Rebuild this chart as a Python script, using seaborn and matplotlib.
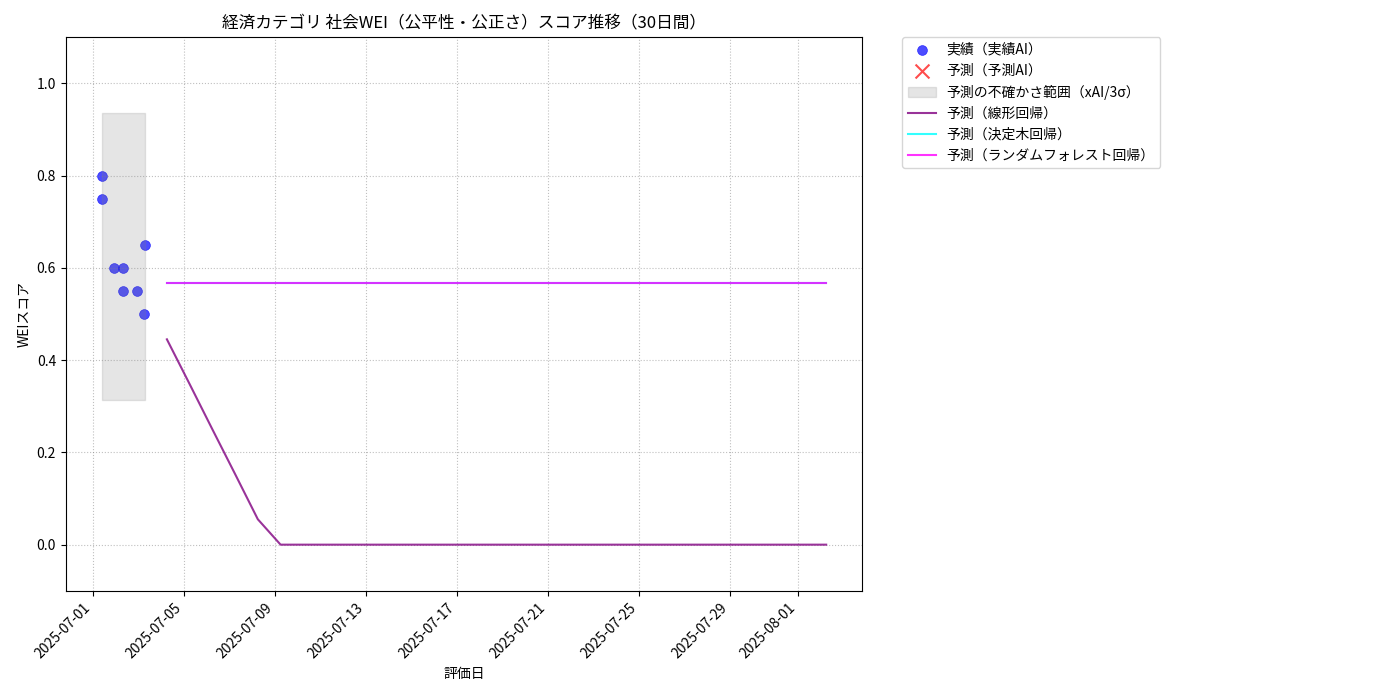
import matplotlib
matplotlib.use("Agg")
import matplotlib.pyplot as plt
import seaborn as sns
import pandas as pd

plt.rcParams['font.family'] = ['Noto Sans CJK JP', 'DejaVu Sans']

# 実績データ
actual_dates = ["2025-07-01 09:30", "2025-07-01 09:30", "2025-07-01 22:30", "2025-07-02 07:20",
                "2025-07-02 07:20", "2025-07-02 22:25", "2025-07-03 06:50", "2025-07-03 06:10"]
actual_scores = [0.80, 0.75, 0.60, 0.60, 0.55, 0.55, 0.65, 0.50]

# 不確かさ範囲 (3σ)
band_low = 0.314
band_high = 0.936

# 予測 (30日間)
forecast_start = "2025-07-04 06:00"
linear_pred = [0.445, 0.348, 0.250, 0.153, 0.055, 0.0, 0.0, 0.0, 0.0, 0.0,
               0.0, 0.0, 0.0, 0.0, 0.0, 0.0, 0.0, 0.0, 0.0, 0.0,
               0.0, 0.0, 0.0, 0.0, 0.0, 0.0, 0.0, 0.0, 0.0, 0.0]
tree_pred = [0.566] * 30
forest_pred = [0.568] * 30

actual_df = pd.DataFrame({"date": pd.to_datetime(actual_dates), "score": actual_scores})
forecast_df = pd.DataFrame({
    "date": pd.date_range(forecast_start, periods=len(linear_pred), freq="D"),
    "linear": linear_pred,
    "tree": tree_pred,
    "forest": forest_pred,
})

fig, ax = plt.subplots(figsize=(14, 7), dpi=100)

sns.scatterplot(data=actual_df, x="date", y="score", color="blue", alpha=0.7, s=50,
                edgecolor="blue", linewidth=0.5, label="実績（実績AI）", ax=ax)
ax.scatter([], [], marker="x", color="red", alpha=0.7, s=100, label="予測（予測AI）")

band_x = [actual_df["date"].min(), actual_df["date"].max()]
ax.fill_between(band_x, band_low, band_high, color="gray", alpha=0.2, label="予測の不確かさ範囲（xAI/3σ）")

sns.lineplot(data=forecast_df, x="date", y="linear", color="purple", alpha=0.8, label="予測（線形回帰）", ax=ax)
sns.lineplot(data=forecast_df, x="date", y="tree", color="cyan", alpha=0.8, label="予測（決定木回帰）", ax=ax)
sns.lineplot(data=forecast_df, x="date", y="forest", color="magenta", alpha=0.8, label="予測（ランダムフォレスト回帰）", ax=ax)

ax.set_ylim(-0.1, 1.1)
ax.set_title("経済カテゴリ 社会WEI（公平性・公正さ）スコア推移（30日間）", fontsize=12)
ax.set_xlabel("評価日")
ax.set_ylabel("WEIスコア")
ax.grid(True, linestyle=":", color="gray", alpha=0.5)
plt.setp(ax.get_xticklabels(), rotation=45, ha="right")
ax.legend(bbox_to_anchor=(1.05, 1), loc="upper left", borderaxespad=0.)

fig.subplots_adjust(left=0.047, right=0.616, top=0.947, bottom=0.156)
fig.savefig("out.png", dpi=100)
